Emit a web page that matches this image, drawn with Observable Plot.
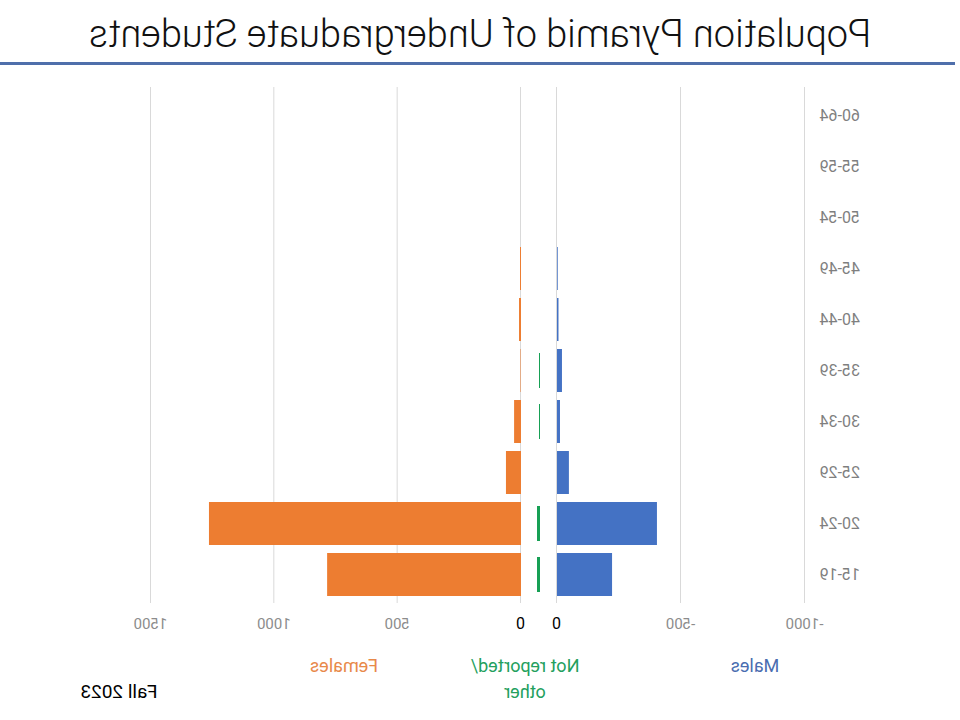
<!DOCTYPE html>
<html>
<head>
<meta charset="utf-8">
<script src="https://cdn.jsdelivr.net/npm/d3@7"></script>
<script src="https://cdn.jsdelivr.net/npm/@observablehq/plot@0.6"></script>
<style>
  html, body { margin: 0; padding: 0; background: white; }
  #page { position: relative; width: 960px; height: 720px; overflow: hidden; transform: scaleX(-1); font-family: Roboto, "Noto Sans", sans-serif; }
  .abs { position: absolute; }
  .lbl { position: absolute; transform: translateX(-50%); text-align: center; white-space: nowrap; line-height: 26px; font-weight: 400; }
  svg { background: transparent !important; }
</style>
</head>
<body>
<div id="page">
  <div class="abs" id="title" style="left:0; width:960px; top:12px; text-align:center; font-size:38px; font-weight:300; color:#111;">Population Pyramid of Undergraduate Students</div>
  <div class="abs" style="left:5px; width:955px; top:62px; height:3px; background:#4f6fab;"></div>
  <div class="abs" id="males" style="left:0; top:70px;"></div>
  <div class="abs" id="other" style="left:412px; top:70px;"></div>
  <div class="abs" id="females" style="left:430px; top:70px;"></div>
  <div class="lbl" style="left:205px; top:653px; font-size:18px; color:#4a6db0;">Males</div>
  <div class="lbl" style="left:435px; top:653px; font-size:18px; color:#23a05e;">Not reported/<br>other</div>
  <div class="lbl" style="left:616px; top:653px; font-size:18px; color:#e8894a;">Females</div>
  <div class="lbl" style="left:841px; top:679px; font-size:19px; color:#000;">Fall 2023</div>
</div>
<script>
const ages = ["15-19","20-24","25-29","30-34","35-39","40-44","45-49","50-54","55-59","60-64"];
const males = [222, 403, 48, 12, 20, 6, 3, 0, 0, 0];
const females = [786, 1265, 61, 28, 2, 8, 4, 0, 0, 0];
const other = [12, 12, 0, 4, 4, 0, 0, 0, 0, 0];
const maleTicks = [-1000, -500, 0];
const femaleTicks = [0, 500, 1000, 1500];

const ageOrder = ages.slice().reverse();
const H = 580, MT = 17, MB = 47;
const gridColor = "#d9d9d9";
const tickGray = "#8c8c8c";

const maleData = ages.map((a, i) => ({age: a, v: -males[i]}));
const femaleData = ages.map((a, i) => ({age: a, v: females[i]}));
const otherData = ages.map((a, i) => ({age: a, v: other[i]}));

const yOpts = {domain: ageOrder, paddingInner: 0.16, paddingOuter: 0.08, label: null};

const malePlot = Plot.plot({
  width: 412, height: H, marginLeft: 155, marginRight: 9, marginTop: MT, marginBottom: MB,
  x: {domain: [-1000, 0], label: null},
  y: yOpts,
  style: {background: "transparent", fontFamily: "Roboto, sans-serif"},
  marks: [
    Plot.gridX(maleTicks, {stroke: gridColor, strokeOpacity: 1}),
    Plot.barX(maleData, {x: "v", y: "age", fill: "#4472C4"}),
    Plot.axisY({tickSize: 0, tickPadding: 15, fontSize: 16, color: "#7f7f7f", label: null}),
    Plot.axisX(maleTicks.filter(d => d !== 0), {tickSize: 0, tickPadding: 15, fontSize: 15, color: tickGray, label: null, tickFormat: d => String(d)}),
    Plot.axisX([0], {tickSize: 0, tickPadding: 14, fontSize: 16, color: "#000", label: null, tickFormat: d => "0"})
  ]
});
document.getElementById("males").appendChild(malePlot);

const otherPlot = Plot.plot({
  width: 18, height: H, marginLeft: 0, marginRight: 0, marginTop: MT, marginBottom: MB,
  x: {domain: [-32, 40], axis: null},
  y: {...yOpts, axis: null},
  style: {background: "transparent"},
  marks: [
    Plot.barX(otherData.filter(d => d.v > 0), {x: "v", y: "age", fill: "#17a055", insetTop: 4, insetBottom: 4})
  ]
});
document.getElementById("other").appendChild(otherPlot);

const femalePlot = Plot.plot({
  width: 530, height: H, marginLeft: 9, marginRight: 151, marginTop: MT, marginBottom: MB,
  x: {domain: [0, 1500], label: null},
  y: {...yOpts, axis: null},
  style: {background: "transparent", fontFamily: "Roboto, sans-serif"},
  marks: [
    Plot.gridX(femaleTicks, {stroke: gridColor, strokeOpacity: 1}),
    Plot.barX(femaleData, {x: "v", y: "age", fill: "#ED7D31"}),
    Plot.axisX(femaleTicks.filter(d => d !== 0), {tickSize: 0, tickPadding: 15, fontSize: 15, color: tickGray, label: null, tickFormat: d => String(d)}),
    Plot.axisX([0], {tickSize: 0, tickPadding: 14, fontSize: 16, color: "#000", label: null, tickFormat: d => "0"})
  ]
});
document.getElementById("females").appendChild(femalePlot);
</script>
</body>
</html>
